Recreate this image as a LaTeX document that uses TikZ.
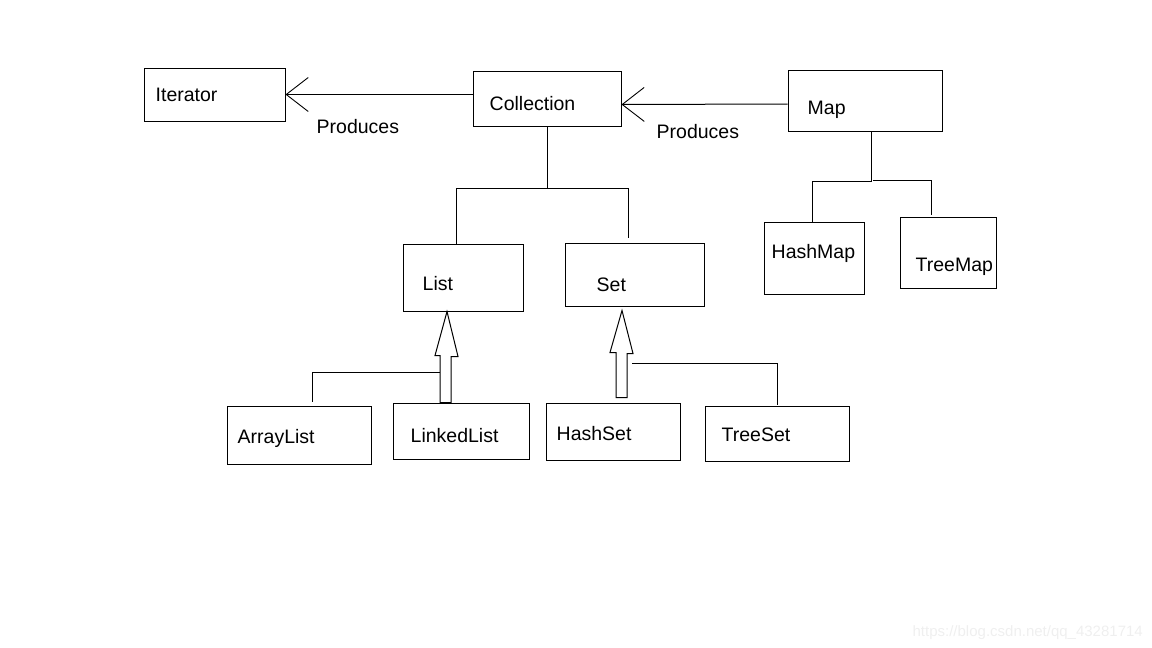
\documentclass[tikz,border=0pt]{standalone}
\usepackage{fontspec}
\setmainfont{Liberation Sans}
\usetikzlibrary{positioning, arrows.meta, calc}
\definecolor{linea}{HTML}{000000}
\definecolor{marca}{HTML}{EFEFEF}

\tikzset{
	caja/.style={draw=linea, line width=1pt, inner sep=0pt},
	etiqueta/.style={anchor=base west, inner sep=0pt, font=\fontsize{19.5}{22}\selectfont},
	rama/.style={draw=linea, line width=1pt},
	produce/.style={rama, -{Straight Barb[length=22pt, width=34pt, line width=0.9pt]}},
	hueca/.style={draw=linea, line width=1pt, line join=miter}
}

\begin{document}
\begin{tikzpicture}[x=1pt, y=-1pt]
	\useasboundingbox (0,0) rectangle (1152,648);
	% cajas
	\node[caja, minimum width=141pt, minimum height=53pt] (iter) at (214.5,94.5) {};
	\node[caja, minimum width=148pt, minimum height=55pt] (coll) at (547,98.5) {};
	\node[caja, minimum width=154pt, minimum height=61pt] (map) at (865,100.5) {};
	\node[caja, minimum width=120pt, minimum height=67pt] (list) at (463,277.5) {};
	\node[caja, minimum width=139pt, minimum height=63pt] (set) at (634.5,274.5) {};
	\node[caja, minimum width=100pt, minimum height=72pt] (hmap) at (814,258) {};
	\node[caja, minimum width=96pt, minimum height=71pt] (tmap) at (948,252.5) {};
	\node[caja, minimum width=144pt, minimum height=58pt] (alist) at (299,435) {};
	\node[caja, minimum width=136pt, minimum height=56pt] (llist) at (461,431) {};
	\node[caja, minimum width=134pt, minimum height=57pt] (hset) at (613,431.5) {};
	\node[caja, minimum width=144pt, minimum height=55pt] (tset) at (777,433.5) {};

	% nombres
	\node[etiqueta] (tIter) at ($(iter.north west)+(12,34)$) {Iterator};
	\node[etiqueta] (tColl) at ($(coll.north west)+(17,40)$) {Collection};
	\node[etiqueta] (tMap) at ($(map.north west)+(20,45)$) {Map};
	\node[etiqueta] (tList) at ($(list.north west)+(20,47)$) {List};
	\node[etiqueta] (tSet) at ($(set.north west)+(32,49)$) {Set};
	\node[etiqueta] (tHmap) at ($(hmap.north west)+(8,37)$) {HashMap};
	\node[etiqueta] (tTmap) at ($(tmap.north west)+(16,55)$) {TreeMap};
	\node[etiqueta] (tAlist) at ($(alist.north west)+(11,38)$) {ArrayList};
	\node[etiqueta] (tLlist) at ($(llist.north west)+(18,40)$) {LinkedList};
	\node[etiqueta] (tHset) at ($(hset.north west)+(11,38)$) {HashSet};
	\node[etiqueta] (tTset) at ($(tset.north west)+(17,36)$) {TreeSet};

	% produces
	\draw[produce] (coll.west |- iter.east) -- (iter.east);
	\draw[produce] ([yshift=-3.5pt]map.west) -- ([yshift=-6pt]coll.east);
	\node[etiqueta] (prod1) at ($(iter.east)+(31,38.5)$) {Produces};
	\node[etiqueta] (prod2) at ($(map.west)+(-131,37.5)$) {Produces};

	% Collection -> List, Set
	\draw[rama] (coll.south) -- ++(0,62) coordinate (c1);
	\draw[rama] ([xshift=-7pt]list.north) |- (c1) -| ([xshift=-6.5pt,yshift=5pt]set.north);

	% Map -> HashMap, TreeMap
	\draw[rama] ([xshift=6pt]map.south) -- ++(0,50) coordinate (m1);
	\draw[rama] (m1) -| ([xshift=-2pt]hmap.north);
	\draw[rama] ([xshift=2pt,yshift=1pt]m1) -| ([xshift=-17pt,yshift=2pt]tmap.north);

	% flechas huecas
	\draw[hueca] ([xshift=-21pt]llist.north) -- ++(0,-47) -- ++(-5,0)
		-- ([xshift=-16pt]list.south) -- ++(11,45) -- ++(-7,0)
		-- ([xshift=-10pt]llist.north) -- cycle;
	\coordinate (lsh) at ([xshift=-21pt,yshift=30pt]llist.north);
	\draw[rama] ([xshift=13pt,yshift=4pt]alist.north) |- (lsh);

	\draw[hueca] ([xshift=3pt,yshift=5pt]hset.north) -- ++(0,-45) -- ++(-6,0)
		-- ([xshift=-12.5pt,yshift=-4pt]set.south) -- ++(11,43) -- ++(-6,0)
		-- ([xshift=14pt,yshift=5pt]hset.north) -- cycle;
	\coordinate (ssh) at ([xshift=19pt,yshift=39pt]hset.north);
	\draw[rama] ([yshift=1pt]tset.north) |- (ssh);

	% marca de agua
	\node[anchor=base east, inner sep=0pt, text=marca, font=\fontsize{15}{18}\selectfont] (marca) at (1143,636) {https://blog.csdn.net/qq\_43281714};
\end{tikzpicture}
\end{document}
